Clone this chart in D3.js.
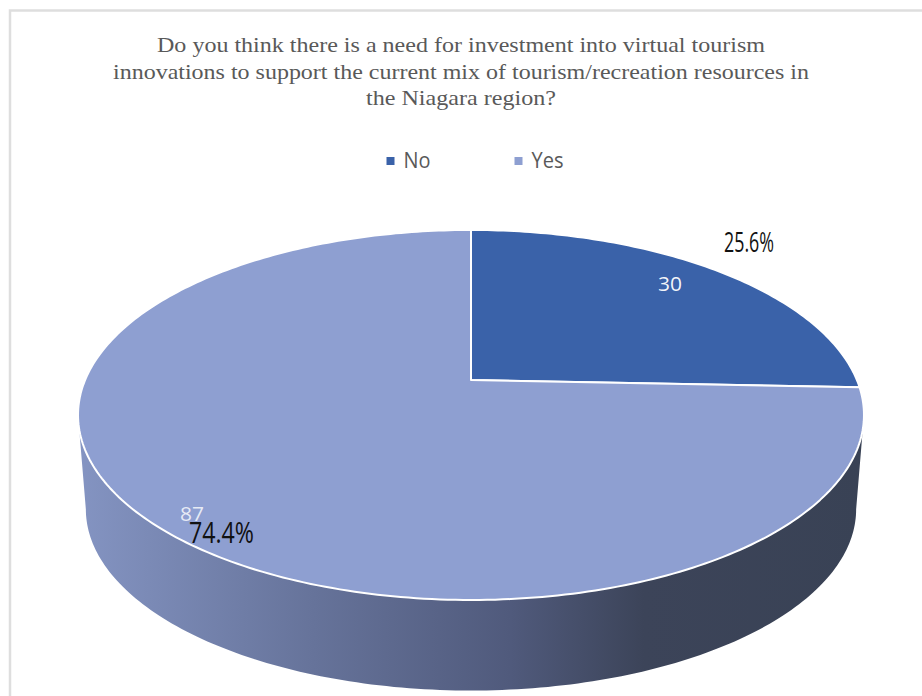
<!DOCTYPE html>
<html>
<head>
<meta charset="utf-8">
<script src="https://cdn.jsdelivr.net/npm/d3@7/dist/d3.min.js"></script>
<style>
html, body { margin: 0; padding: 0; background: #fff; }
svg { display: block; }
</style>
</head>
<body>
<svg id="chart" width="922" height="696"></svg>
<script>
const categories = ["No", "Yes"];
const counts = [30, 87];
const percentLabels = ["25.6%", "74.4%"];
const sliceColors = ["#3a62a9", "#8e9fd1"];
const titleLines = [
  "Do you think there is a need for investment into virtual tourism",
  "innovations to support the current mix of tourism/recreation resources in",
  "the Niagara region?"
];

const svg = d3.select("#chart");

// Chart frame
svg.append("path")
  .attr("d", "M10,696V10.5H922")
  .attr("fill", "none").attr("stroke", "#dedede").attr("stroke-width", 2.5);

// Title
const titleWidths = [608, 696, 190];
svg.append("g").selectAll("text").data(titleLines).join("text")
  .attr("x", 461).attr("y", (d, i) => 52 + i * 26.6)
  .attr("text-anchor", "middle")
  .attr("font-family", "'Liberation Serif'").attr("font-size", 21)
  .attr("fill", "#595959")
  .attr("textLength", (d, i) => titleWidths[i])
  .attr("lengthAdjust", "spacingAndGlyphs")
  .text(d => d);

// Legend
const legendX = d3.scaleOrdinal().domain(categories).range([386.5, 514.5]);
const legend = svg.append("g").selectAll("g").data(categories).join("g")
  .attr("transform", d => `translate(${legendX(d)},157)`);
legend.append("rect").attr("width", 8).attr("height", 8)
  .attr("fill", (d, i) => sliceColors[i]);
legend.append("text").attr("x", 17).attr("y", 11)
  .attr("font-family", "'Open Sans'").attr("font-size", 21.5).attr("fill", "#595959")
  .attr("textLength", (d, i) => [27, 32][i])
  .attr("lengthAdjust", "spacingAndGlyphs")
  .text(d => d);

// Perspective projection of the tilted disc: angle is clockwise from 12 o'clock
const perspective = 0.189;
const makeRim = (cx, cy, a, b) => angle => {
  const u = Math.sin(angle), v = -Math.cos(angle), w = 1 - perspective * v;
  return [cx + a * u / w, cy + b * v / w];
};
const topRim = makeRim(471, 380, 385.9, 178.4);
const bottomRim = makeRim(471, 475, 378.2, 174.8);

const pie = d3.pie().sort(null).value(d => d);
const arcs = pie(counts);
const line = d3.line();

// Angles at which the rim reaches its left and right extremes on screen
const sideStart = Math.PI / 2 + Math.asin(perspective);
const sideEnd = 3 * Math.PI / 2 - Math.asin(perspective);
const sweep = (a0, a1, rim) => {
  const n = Math.max(2, Math.ceil(Math.abs(a1 - a0) * 60));
  return d3.range(n + 1).map(i => rim(a0 + (a1 - a0) * i / n));
};

// Side wall of the pie, shaded from left to right
const defs = svg.append("defs");
const wallGradient = defs.append("linearGradient")
  .attr("id", "wall").attr("gradientUnits", "userSpaceOnUse")
  .attr("x1", 78).attr("x2", 864).attr("y1", 0).attr("y2", 0);
[[0, "#8494c2"], [0.3, "#66739a"], [0.55, "#505a7c"], [0.72, "#3c4459"], [1, "#394255"]]
  .forEach(([o, c]) => wallGradient.append("stop").attr("offset", o).attr("stop-color", c));
svg.append("path")
  .attr("d", line(sweep(sideStart, sideEnd, topRim).concat(sweep(sideEnd, sideStart, bottomRim))) + "Z")
  .attr("fill", "url(#wall)");

// Top face
svg.append("g").selectAll("path").data(arcs).join("path")
  .attr("d", d => line([[471, 380]].concat(sweep(d.startAngle, d.endAngle, topRim))) + "Z")
  .attr("fill", (d, i) => sliceColors[i])
  .attr("stroke", "#fff").attr("stroke-width", 2).attr("stroke-linejoin", "round");

// Count labels inside the slices
const countAnchors = [[658, 291], [180, 521]];
svg.append("g").selectAll("text").data(counts).join("text")
  .attr("x", (d, i) => countAnchors[i][0]).attr("y", (d, i) => countAnchors[i][1])
  .attr("font-family", "'Open Sans'").attr("font-size", 20)
  .attr("fill", "#fff").attr("fill-opacity", (d, i) => i ? 0.8 : 0.95)
  .attr("textLength", 24).attr("lengthAdjust", "spacingAndGlyphs")
  .text(d => d);

// Percentage labels, drawn narrow and tall
const percentAnchors = [[724, 252], [189, 543]];
svg.append("g").selectAll("text").data(percentLabels).join("text")
  .attr("x", (d, i) => percentAnchors[i][0]).attr("y", (d, i) => percentAnchors[i][1])
  .attr("font-family", "'Open Sans'").attr("font-size", (d, i) => i ? 29 : 28)
  .attr("fill", "#111")
  .attr("textLength", (d, i) => [50, 65][i])
  .attr("lengthAdjust", "spacingAndGlyphs")
  .text(d => d);
</script>
</body>
</html>
